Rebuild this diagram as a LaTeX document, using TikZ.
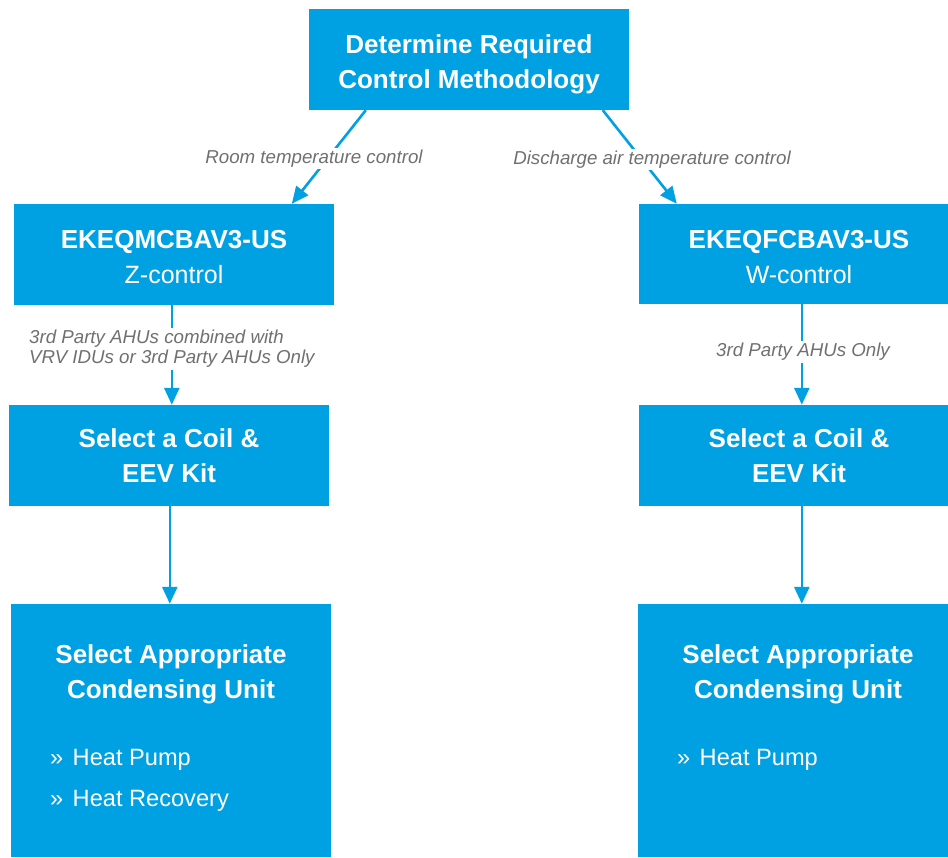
\documentclass[tikz,border=0pt]{standalone}
\usepackage{fontspec}
\setmainfont{Liberation Sans}
\usetikzlibrary{arrows.meta}
\definecolor{dkblue}{RGB}{0,161,226}
\definecolor{lblgray}{RGB}{112,112,112}
\tikzset{
  box/.style={fill=dkblue, draw=none, text=white, align=center, inner sep=0pt},
  titletext/.style={font=\fontsize{26}{35}\selectfont\bfseries},
  bullettext/.style={text=white, anchor=west, inner sep=0pt, font=\fontsize{23.6}{30}\selectfont},
  lbl/.style={fill=white, text=lblgray, inner sep=2pt, font=\fontsize{18.7}{20}\selectfont\itshape},
  conn/.style={draw=dkblue, line width=2.6pt, -{Triangle[width=15pt,length=17pt]}}
}
\begin{document}
\begin{tikzpicture}[x=1pt,y=-1pt]
\useasboundingbox[fill=white] (0,0) rectangle (948,858);
% boxes
\node[box, minimum width=320pt, minimum height=101pt] (top) at (469,59.5) {};
\node[box, fill=none, titletext] (topt) at (469,64) {Determine Required\\Control Methodology};
\node[box, minimum width=320pt, minimum height=101pt] (L1) at (174,254.5) {};
\node[box, fill=none, font=\fontsize{26}{35}\selectfont] (L1t) at (174,257) {{\bfseries EKEQMCBAV3-US}\\{\fontsize{25}{35}\selectfont Z-control}};
\node[box, minimum width=320pt, minimum height=100pt] (R1) at (799,254) {};
\node[box, fill=none, font=\fontsize{26}{35}\selectfont] (R1t) at (799,257) {{\bfseries EKEQFCBAV3-US}\\{\fontsize{25}{35}\selectfont W-control}};
\node[box, minimum width=320pt, minimum height=101pt, titletext] (L2) at (169,455.5) {Select a Coil \&\\EEV Kit};
\node[box, minimum width=320pt, minimum height=101pt, titletext] (R2) at (799,455.5) {Select a Coil \&\\EEV Kit};
\node[box, minimum width=320pt, minimum height=253pt] (L3) at (171,730.5) {};
\node[box, minimum width=320pt, minimum height=253pt] (R3) at (798,730.5) {};
% texts in the tall boxes
\node[box, fill=none, titletext] (L3t) at (171,674.5) {Select Appropriate\\Condensing Unit};
\node[box, fill=none, titletext] (R3t) at (798,674.5) {Select Appropriate\\Condensing Unit};
\node[bullettext] (L3a) at (50,760) {»\hspace{0.4em}Heat Pump};
\node[bullettext] (L3b) at (50,801) {»\hspace{0.4em}Heat Recovery};
\node[bullettext] (R3a) at (677,760) {»\hspace{0.4em}Heat Pump};
% connectors
\draw[conn] ([xshift=57pt]top.south west) -- ([xshift=278pt]L1.north west);
\draw[conn] ([xshift=294pt]top.south west) -- ([xshift=38pt]R1.north west);
\draw[conn] ([xshift=158pt]L1.south west) -- ([xshift=163pt]L2.north west);
\draw[conn] ([xshift=163pt]R1.south west) -- ([xshift=163pt]R2.north west);
\draw[conn] ([xshift=161pt]L2.south west) -- ([xshift=159pt]L3.north west);
\draw[conn] ([xshift=163pt]R2.south west) -- ([xshift=164pt]R3.north west);
% labels
\node[lbl] (la) at (314,158.5) {Room temperature control};
\node[lbl] (lb) at (652,159.5) {Discharge air temperature control};
\node[lbl, align=left, anchor=west] (lc) at (27,349) {3rd Party AHUs combined with\\VRV IDUs or 3rd Party AHUs Only};
\node[lbl] (ld) at (803,352) {3rd Party AHUs Only};
\end{tikzpicture}
\end{document}
